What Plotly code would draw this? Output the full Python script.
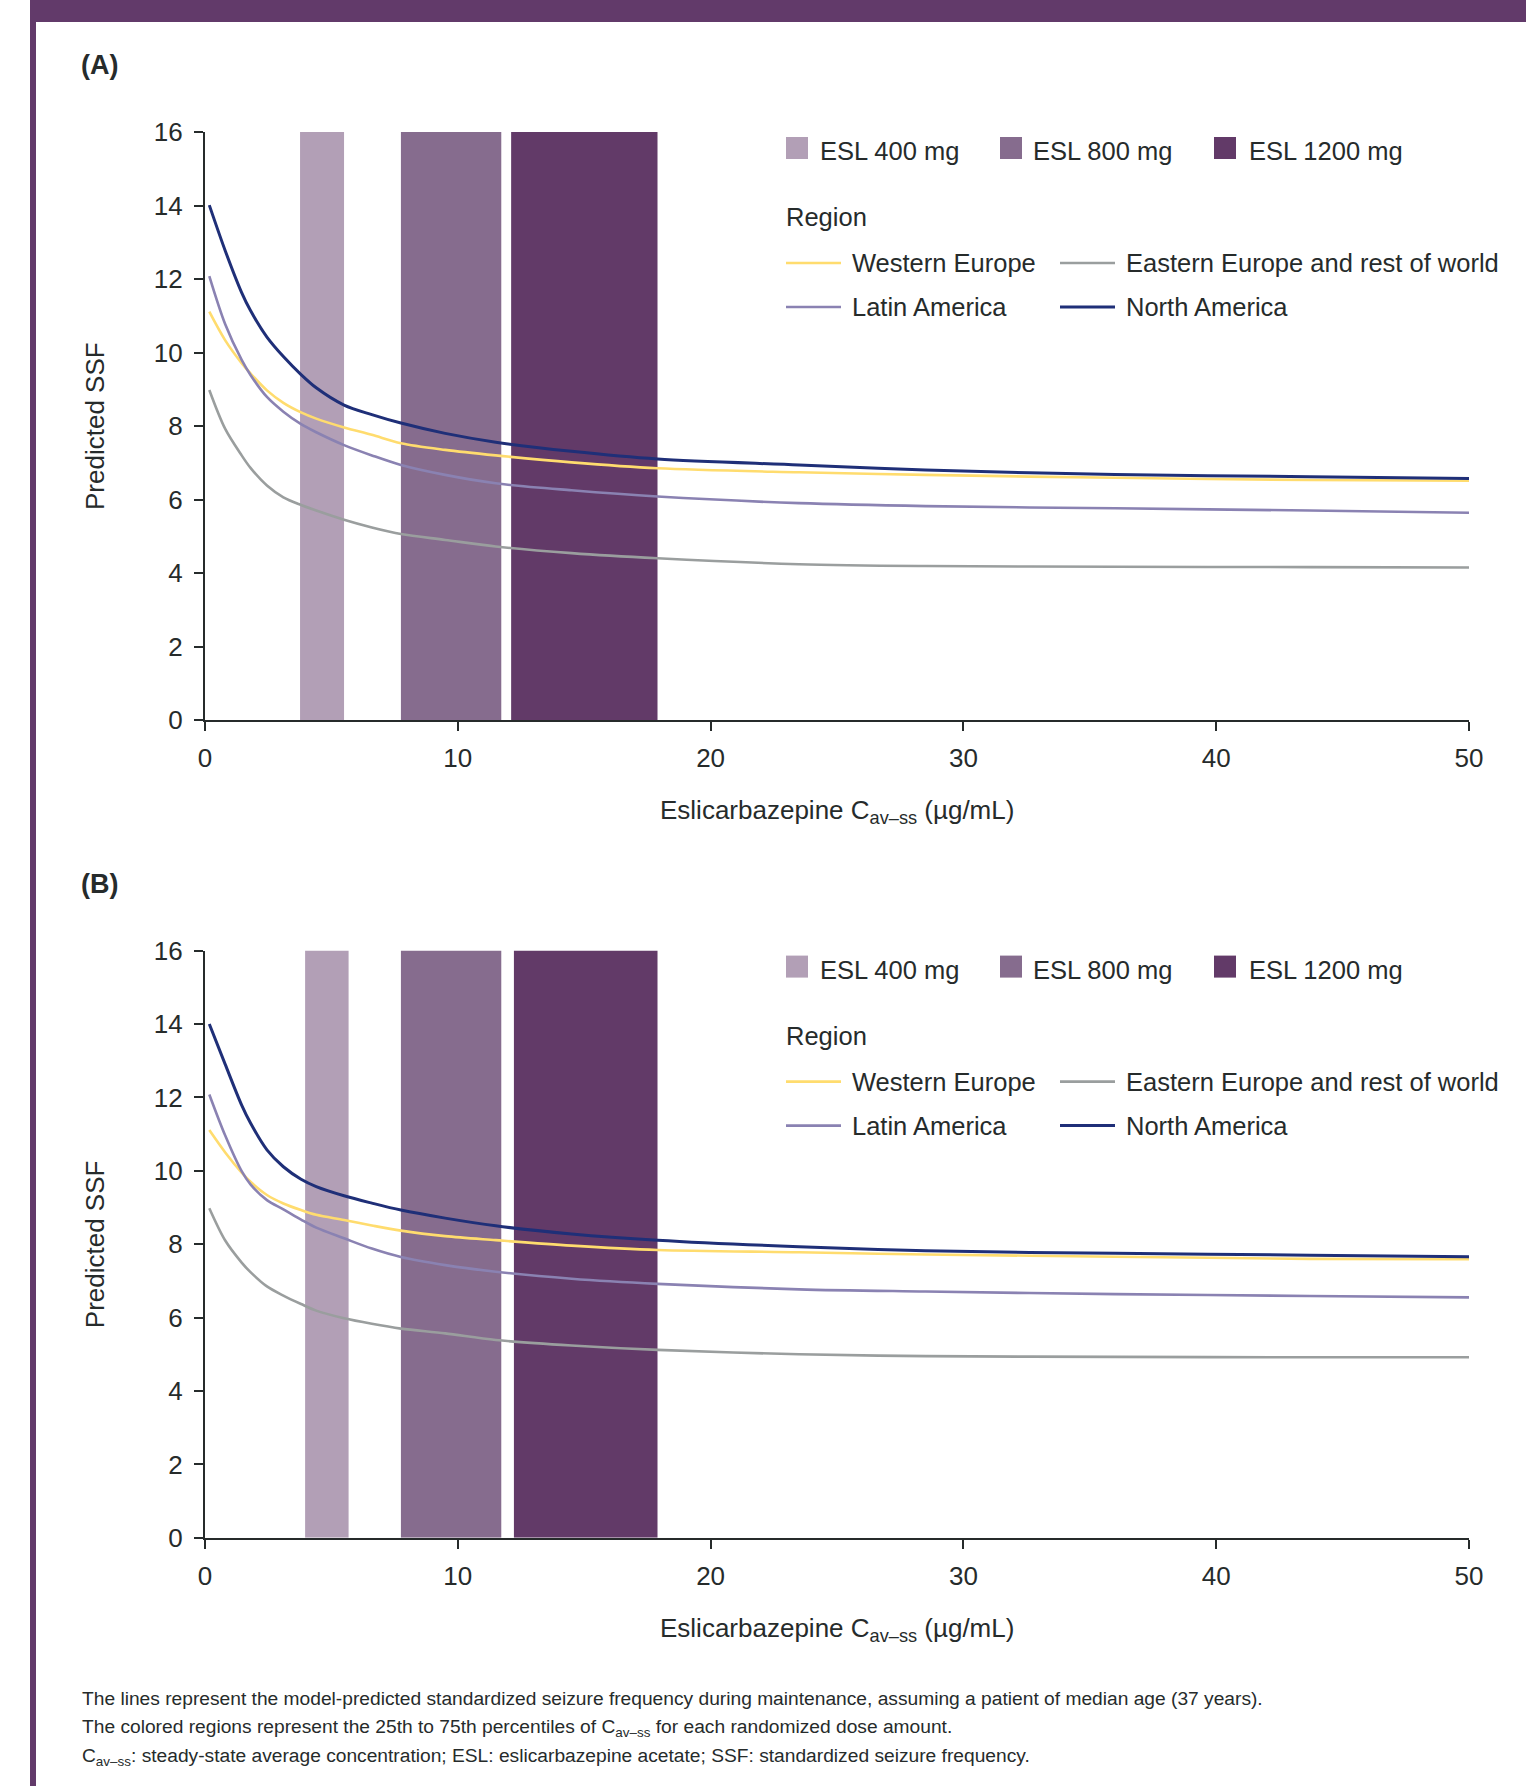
import plotly.graph_objects as go

W, H = 1526, 1786

# ---------------- data ----------------
conc = [0.17, 0.8, 1.45, 1.8, 2.45, 3.1, 3.8, 4.4, 5.5, 6.6, 7.75, 9.5, 11.5, 14.5, 17.9, 23.5, 28.5, 36, 43.7, 50]

a_western = [11.11, 10.33, 9.71, 9.43, 8.97, 8.63, 8.37, 8.20, 7.96, 7.76, 7.53, 7.35, 7.20, 7.01, 6.85, 6.74, 6.67, 6.59, 6.53, 6.51]
a_eastern = [8.98, 7.92, 7.20, 6.86, 6.38, 6.06, 5.85, 5.70, 5.45, 5.24, 5.06, 4.90, 4.72, 4.54, 4.40, 4.24, 4.19, 4.17, 4.16, 4.15]
a_latin = [12.08, 10.77, 9.80, 9.39, 8.79, 8.39, 8.05, 7.83, 7.48, 7.20, 6.94, 6.67, 6.44, 6.25, 6.08, 5.90, 5.82, 5.76, 5.70, 5.64]
a_north = [14.01, 12.77, 11.63, 11.14, 10.42, 9.89, 9.40, 9.04, 8.57, 8.31, 8.08, 7.80, 7.56, 7.31, 7.10, 6.94, 6.80, 6.68, 6.62, 6.57]

b_western = [11.11, 10.50, 9.95, 9.70, 9.34, 9.11, 8.93, 8.80, 8.66, 8.51, 8.37, 8.22, 8.11, 7.96, 7.84, 7.78, 7.72, 7.66, 7.60, 7.59]
b_eastern = [8.98, 8.10, 7.50, 7.24, 6.85, 6.60, 6.37, 6.19, 5.98, 5.83, 5.70, 5.57, 5.39, 5.24, 5.12, 5.00, 4.95, 4.93, 4.92, 4.92]
b_latin = [12.08, 10.96, 9.99, 9.63, 9.20, 8.95, 8.67, 8.45, 8.16, 7.88, 7.65, 7.43, 7.25, 7.06, 6.92, 6.77, 6.71, 6.64, 6.59, 6.55]
b_north = [14.00, 12.90, 11.79, 11.30, 10.57, 10.11, 9.77, 9.57, 9.32, 9.12, 8.93, 8.71, 8.50, 8.28, 8.11, 7.93, 7.82, 7.75, 7.70, 7.66]

dose_labels = ["ESL 400 mg", "ESL 800 mg", "ESL 1200 mg"]
a_p25 = [3.76, 7.75, 12.11]
a_p75 = [5.50, 11.72, 17.90]
b_p25 = [3.96, 7.75, 12.22]
b_p75 = [5.68, 11.72, 17.90]

region_labels = ["Western Europe", "Eastern Europe and rest of world", "Latin America", "North America"]
x_ticks = [0, 10, 20, 30, 40, 50]
y_ticks = [0, 2, 4, 6, 8, 10, 12, 14, 16]

# ---------------- style ----------------
FONT = "Liberation Sans, Arial, Helvetica, sans-serif"
TXT = "#262b2b"
dose_colors = ["#b29fb6", "#866c8e", "#623a68"]
region_colors = ["#ffdc6e", "#9a9e9e", "#8a82b2", "#1f2f78"]
region_widths = [2.6, 2.6, 2.6, 3.0]
PURPLE = "#623a6a"
FS = 26
LFS = 25.5


def px(x):
    return x / W


def py(y):
    return 1 - y / H


fig = go.Figure()

panels = [
    ("x", "y", [a_western, a_eastern, a_latin, a_north], a_p25, a_p75, 132.0, 720.0),
    ("x2", "y2", [b_western, b_eastern, b_latin, b_north], b_p25, b_p75, 950.6, 1537.8),
]

for xa, ya, series, p25, p75, top, bot in panels:
    for lab, lo, hi, col in zip(dose_labels, p25, p75, dose_colors):
        fig.add_trace(go.Bar(x=[(lo + hi) / 2], y=[16], base=[0], width=[hi - lo],
                             marker=dict(color=col, line=dict(width=0)),
                             xaxis=xa, yaxis=ya, showlegend=False, name=lab,
                             hoverinfo="skip"))
    for lab, vals, col, lw in zip(region_labels, series, region_colors, region_widths):
        fig.add_trace(go.Scatter(x=conc, y=vals, mode="lines", name=lab,
                                 line=dict(color=col, width=lw, shape="spline", smoothing=0.9),
                                 xaxis=xa, yaxis=ya, showlegend=False))

x_dom = [px(205), px(1469)]
axis_common = dict(showgrid=False, zeroline=False, showline=True, linecolor=TXT, linewidth=2.4,
                   ticks="outside", ticklen=9, tickwidth=2.4, tickcolor=TXT, automargin=False,
                   tickfont=dict(family=FONT, size=FS, color=TXT))

fig.update_layout(
    template="none",
    width=W, height=H, margin=dict(l=0, r=0, t=0, b=0, pad=0, autoexpand=False),
    paper_bgcolor="white", plot_bgcolor="white", barmode="overlay",
    showlegend=False,
    xaxis=dict(domain=x_dom, range=[0, 50], tickvals=x_ticks, anchor="y", ticklabelstandoff=5, **axis_common),
    yaxis=dict(domain=[py(720), py(132)], range=[0, 16], tickvals=y_ticks, anchor="x", ticklabelstandoff=6, **axis_common),
    xaxis2=dict(domain=x_dom, range=[0, 50], tickvals=x_ticks, anchor="y2", ticklabelstandoff=5, **axis_common),
    yaxis2=dict(domain=[py(1537.8), py(950.6)], range=[0, 16], tickvals=y_ticks, anchor="x2", ticklabelstandoff=6, **axis_common),
)

shapes = []
ann = []

# frame: top band and left border
shapes.append(dict(type="rect", xref="paper", yref="paper", x0=px(30), x1=1, y0=py(22), y1=1,
                   fillcolor=PURPLE, line=dict(width=0), layer="above"))
shapes.append(dict(type="rect", xref="paper", yref="paper", x0=px(30), x1=px(36), y0=0, y1=1,
                   fillcolor=PURPLE, line=dict(width=0), layer="above"))

for i, (panel_lab, dy) in enumerate([("(A)", 0), ("(B)", 818.6)]):
    top, bot = panels[i][5], panels[i][6]
    ann.append(dict(text="<b>%s</b>" % panel_lab, x=px(79), y=py(65 + dy), xref="paper", yref="paper",
                    xanchor="left", yanchor="middle", showarrow=False,
                    font=dict(family=FONT, size=27, color=TXT)))
    ann.append(dict(text="Predicted SSF", x=px(95), y=py((top + bot) / 2), xref="paper", yref="paper",
                    xanchor="center", yanchor="middle", textangle=-90, showarrow=False,
                    font=dict(family=FONT, size=FS, color=TXT)))
    ann.append(dict(text="Eslicarbazepine C<sub>av\u2013ss</sub> (\u00b5g/mL)", x=px(837), y=py(811 + dy),
                    xref="paper", yref="paper", xanchor="center", yanchor="middle", showarrow=False,
                    font=dict(family=FONT, size=FS, color=TXT)))
    # dose legend
    for lab, col, sx, tx in zip(dose_labels, dose_colors, [786, 1000, 1214], [818, 1031, 1247]):
        shapes.append(dict(type="rect", xref="paper", yref="paper", x0=px(sx), x1=px(sx + 22),
                           y0=py(159 + dy), y1=py(137 + dy), fillcolor=col, line=dict(width=0)))
        ann.append(dict(text=lab, x=px(tx), y=py(151 + dy), xref="paper", yref="paper",
                        xanchor="left", yanchor="middle", showarrow=False,
                        font=dict(family=FONT, size=LFS, color=TXT)))
    ann.append(dict(text="Region", x=px(784), y=py(217 + dy), xref="paper", yref="paper",
                    xanchor="left", yanchor="middle", showarrow=False,
                    font=dict(family=FONT, size=LFS, color=TXT)))
    pos = [(786, 263), (1060, 263), (786, 307), (1060, 307)]
    for lab, col, lw, (lx, ly) in zip(region_labels, region_colors, region_widths, pos):
        shapes.append(dict(type="line", xref="paper", yref="paper", x0=px(lx), x1=px(lx + 55),
                           y0=py(ly + dy), y1=py(ly + dy), line=dict(color=col, width=lw)))
        ann.append(dict(text=lab, x=px(lx + 64), y=py(ly + dy), xref="paper", yref="paper",
                        xanchor="left", yanchor="middle", showarrow=False,
                        font=dict(family=FONT, size=LFS, color=TXT)))

foot = [
    "The lines represent the model-predicted standardized seizure frequency during maintenance, assuming a patient of median age (37 years).",
    "The colored regions represent the 25th to 75th percentiles of C<sub>av\u2013ss</sub> for each randomized dose amount.",
    "C<sub>av\u2013ss</sub>: steady-state average concentration; ESL: eslicarbazepine acetate; SSF: standardized seizure frequency.",
]
for t, yy in zip(foot, [1698, 1728, 1757]):
    ann.append(dict(text=t, x=px(80), y=py(yy), xref="paper", yref="paper", xanchor="left",
                    yanchor="middle", showarrow=False, font=dict(family=FONT, size=19.2, color=TXT)))

fig.update_layout(shapes=shapes, annotations=ann)
fig.write_html("out.html", config={"displayModeBar": False},
               post_script="document.body.style.margin='0px';")
